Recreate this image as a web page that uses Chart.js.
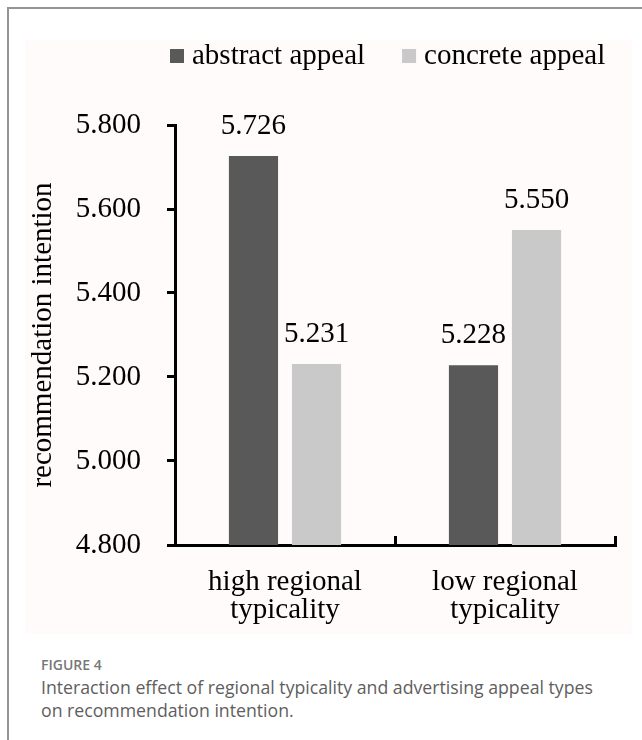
<!DOCTYPE html>
<html>
<head>
<meta charset="utf-8">
<script src="https://cdn.jsdelivr.net/npm/chart.js@4"></script>
<style>
  html, body { margin: 0; padding: 0; width: 642px; height: 740px; overflow: hidden; background: #ffffff; }
  #frame { position: absolute; left: 7px; top: 7px; width: 640px; height: 740px;
           border-left: 2px solid #949494; border-top: 2px solid #949494; }
  #inner { position: absolute; left: 25px; top: 40px; width: 607px; height: 594px; background: #fefbfa; }
  #chart { position: absolute; left: 0; top: 0; }
  #fig { position: absolute; left: 41px; top: 655px; font-family: "Open Sans", sans-serif; font-size: 14px;
         font-weight: 600; color: #777777; line-height: 20px; }
  #cap { position: absolute; left: 41px; top: 676px; font-family: "Open Sans", sans-serif; font-size: 17.7px;
         color: #5e5e5e; line-height: 22.5px; width: 600px; }
</style>
</head>
<body>
<div id="frame"></div>
<div id="inner"></div>
<canvas id="chart" width="642" height="640"></canvas>
<div id="fig">FIGURE 4</div>
<div id="cap">Interaction effect of regional typicality and advertising appeal types<br>on recommendation intention.</div>
<script>
const categories = [["high regional", "typicality"], ["low regional", "typicality"]];
const seriesNames = ["abstract appeal", "concrete appeal"];
const abstractAppeal = [5.726, 5.228];
const concreteAppeal = [5.231, 5.550];
const yTicks = [4.8, 5.0, 5.2, 5.4, 5.6, 5.8];
const seriesColors = ["#595959", "#c9c9c9"];

const SERIF = '"Liberation Serif", "Times New Roman", serif';

const valueLabels = {
  id: 'valueLabels',
  afterDatasetsDraw(chart) {
    const ctx = chart.ctx;
    ctx.save();
    ctx.font = '29px ' + SERIF;
    ctx.fillStyle = '#000';
    ctx.textAlign = 'center';
    ctx.textBaseline = 'middle';
    chart.data.datasets.forEach((ds, di) => {
      const meta = chart.getDatasetMeta(di);
      meta.data.forEach((el, i) => {
        ctx.fillText(ds.data[i].toFixed(3), el.x, el.y - 30);
      });
    });
    ctx.restore();
  }
};

const topLegend = {
  id: 'topLegend',
  afterDraw(chart) {
    const ctx = chart.ctx;
    ctx.save();
    ctx.font = '29px ' + SERIF;
    ctx.textBaseline = 'middle';
    ctx.textAlign = 'left';
    let x = 170;
    const y = 56;
    chart.data.datasets.forEach((ds) => {
      ctx.fillStyle = ds.backgroundColor;
      ctx.fillRect(x, y - 7, 14, 14);
      ctx.fillStyle = '#000';
      ctx.fillText(ds.label, x + 22, y);
      x += 22 + ctx.measureText(ds.label).width + 37;
    });
    ctx.restore();
  }
};

new Chart(document.getElementById('chart'), {
  type: 'bar',
  data: {
    labels: categories,
    datasets: [
      { label: seriesNames[0], data: abstractAppeal, backgroundColor: seriesColors[0],
        categoryPercentage: 0.573, barPercentage: 0.78 },
      { label: seriesNames[1], data: concreteAppeal, backgroundColor: seriesColors[1],
        categoryPercentage: 0.573, barPercentage: 0.78 }
    ]
  },
  options: {
    responsive: false,
    animation: false,
    devicePixelRatio: 1,
    layout: { padding: { left: 20, right: 27, top: 125, bottom: 0 } },
    plugins: {
      legend: { display: false },
      tooltip: { enabled: false }
    },
    scales: {
      x: {
        afterFit(scale) { scale.height = 95; },
        border: { display: true, color: '#000', width: 3 },
        grid: { display: true, drawOnChartArea: false, drawTicks: true, tickLength: -9,
                color: '#000', lineWidth: 3, offset: true },
        ticks: { color: '#000', padding: 32, maxRotation: 0, autoSkip: false,
                 font: { family: SERIF, size: 29, lineHeight: 0.97 } }
      },
      y: {
        min: 4.8,
        max: 5.8,
        afterFit(scale) { scale.width = 155; },
        afterBuildTicks(scale) { scale.ticks = yTicks.map(v => ({ value: v })); },
        border: { display: true, color: '#000', width: 3 },
        grid: { display: true, drawOnChartArea: false, drawTicks: true, tickLength: 8,
                color: '#000', lineWidth: 3 },
        ticks: { color: '#000', padding: 26,
                 font: { family: SERIF, size: 29 },
                 callback: (v) => Number(v).toFixed(3) },
        title: { display: true, text: 'recommendation intention', color: '#000',
                 font: { family: SERIF, size: 29 }, padding: { top: 6, bottom: 0 } }
      }
    }
  },
  plugins: [valueLabels, topLegend]
});
</script>
</body>
</html>
